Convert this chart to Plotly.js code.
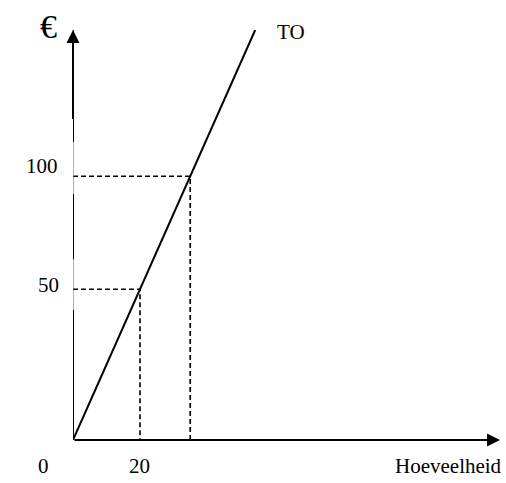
<!DOCTYPE html>
<html>
<head>
<meta charset="utf-8">
<script src="https://cdn.plot.ly/plotly-3.0.1.min.js"></script>
<style>html,body{margin:0;padding:0;background:#fff;}#chart{width:506px;height:483px;}</style>
</head>
<body>
<div id="chart"></div>
<script>
// Total revenue (TO) curve
var quantity = [0, 20, 35, 54.4];
var revenue = [0, 50, 87.5, 136];
// Marked points on the TO line (quantity, revenue level) and their labels
var markQ = [20, 35];
var markLevel = [50, 87.5];
var levelLabels = ['50', '100'];
var qLabels = ['20', ''];
var xMax = 127.5, yMax = 136;

var FONT = 'Liberation Serif, Times New Roman, serif';
var traces = [];
traces.push({x: quantity, y: revenue, mode: 'lines', line: {color: '#000', width: 2}, hoverinfo: 'skip'});
for (var i = 0; i < markQ.length; i++) {
  traces.push({x: [0, markQ[i], markQ[i]], y: [markLevel[i], markLevel[i], 0], mode: 'lines',
    line: {color: '#000', width: 1.6, dash: '5px,3px'}, hoverinfo: 'skip'});
}

var ann = [];
// axis arrows
ann.push({x: xMax, y: 0, ax: 0, ay: 0, xref: 'x', yref: 'y', axref: 'x', ayref: 'y', text: '',
  showarrow: true, arrowhead: 2, arrowsize: 1.3, arrowwidth: 2, arrowcolor: '#000', standoff: 0});
ann.push({x: 0, y: yMax, ax: 0, ay: yMax - 30, xref: 'x', yref: 'y', axref: 'x', ayref: 'y', text: '',
  showarrow: true, arrowhead: 2, arrowsize: 1.3, arrowwidth: 2, arrowcolor: '#000', standoff: 0});
// level labels
var labelX = [36, 24];
var labelShift = [4, 10];
for (var j = 0; j < markLevel.length; j++) {
  ann.push({x: (labelX[j] - 73) / 427, xref: 'paper', y: markLevel[j], yref: 'y', yshift: labelShift[j],
    text: levelLabels[j], showarrow: false, font: {family: FONT, size: 21, color: '#000'}});
  if (qLabels[j]) ann.push({x: markQ[j], xref: 'x', y: 0, yref: 'y', yshift: -26,
    text: qLabels[j], showarrow: false, font: {family: FONT, size: 21, color: '#000'}});
}
ann.push({x: 0, xref: 'x', xshift: -30, y: 0, yref: 'y', yshift: -26, text: '0', showarrow: false,
  font: {family: FONT, size: 21, color: '#000'}});
ann.push({x: xMax, xref: 'x', xshift: 4, xanchor: 'right', y: 0, yref: 'y', yshift: -26, text: 'Hoeveelheid', showarrow: false,
  font: {family: FONT, size: 21, color: '#000'}});
ann.push({x: quantity[quantity.length - 1], xref: 'x', xshift: 20, xanchor: 'left', y: revenue[revenue.length - 1], yref: 'y', yshift: -2,
  text: 'TO', showarrow: false, font: {family: FONT, size: 21, color: '#000'}});
ann.push({x: 0, xref: 'x', xshift: -25, y: yMax, yref: 'y', yshift: 4, text: '€', showarrow: false,
  font: {family: FONT, size: 34, color: '#000'}});

var shapes = [
  {type: 'line', xref: 'x', yref: 'y', x0: 0, x1: 0, y0: 0, y1: yMax - 30, line: {color: '#666', width: 1}},
  {type: 'line', xref: 'x', yref: 'paper', x0: 0, x1: 0, y0: 0, y1: 0.317, line: {color: '#000', width: 2}},
  {type: 'line', xref: 'x', yref: 'paper', x0: 0, x1: 0, y0: 0.441, y1: 0.6, line: {color: '#000', width: 2}},
  {type: 'line', xref: 'x', yref: 'paper', x0: 0, x1: 0, y0: 0.727, y1: 1, line: {color: '#000', width: 2}}
];

var layout = {
  width: 506, height: 483,
  margin: {l: 73, r: 6, t: 30, b: 43},
  paper_bgcolor: '#fff', plot_bgcolor: '#fff',
  showlegend: false,
  xaxis: {range: [0, xMax], visible: false, fixedrange: true},
  yaxis: {range: [0, yMax], visible: false, fixedrange: true},
  annotations: ann,
  shapes: shapes
};
Plotly.newPlot('chart', traces, layout, {displayModeBar: false, staticPlot: true});
</script>
</body>
</html>
